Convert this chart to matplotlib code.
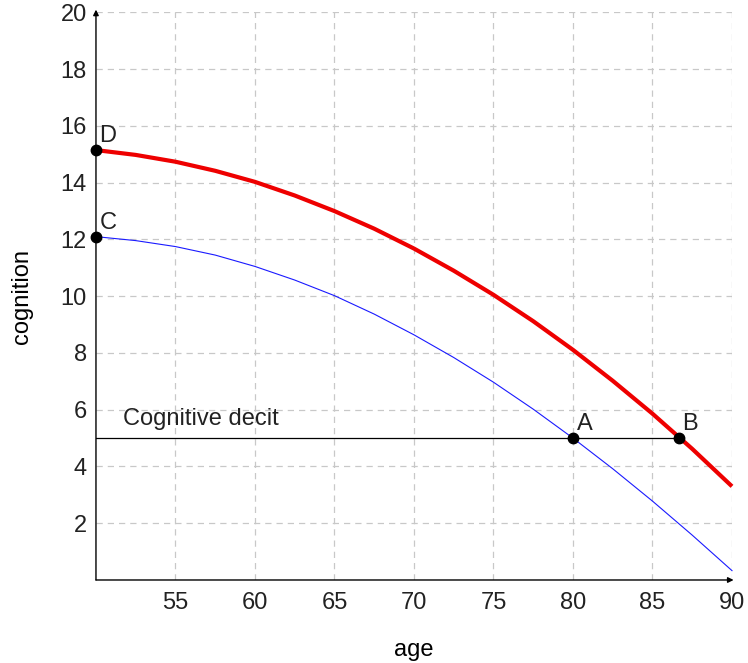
import matplotlib
matplotlib.use("Agg")
import matplotlib.pyplot as plt

# --- data
age = [50, 52.5, 55, 57.5, 60, 62.5, 65, 67.5, 70, 72.5, 75, 77.5, 80, 82.5, 85, 87.5, 90]
cog_low = [12.1, 11.96, 11.75, 11.45, 11.05, 10.57, 10.02, 9.37, 8.64, 7.84, 6.97, 6.02, 5.0,
           3.92, 2.78, 1.58, 0.33]
cog_high = [15.15, 14.98, 14.74, 14.42, 14.03, 13.55, 13.0, 12.38, 11.68, 10.9, 10.05, 9.12, 8.11,
            7.02, 5.86, 4.62, 3.3]

points = {"A": (80, 5), "B": (86.67, 5), "C": (50, 12.1), "D": (50, 15.15)}
deficit_level = 5
x_ticks = [55, 60, 65, 70, 75, 80, 85, 90]
y_ticks = [2, 4, 6, 8, 10, 12, 14, 16, 18, 20]

FS = 17
plt.rcParams["font.family"] = ["Liberation Sans", "DejaVu Sans"]

fig = plt.figure(figsize=(7.48, 6.63), dpi=100)
ax = fig.add_axes([0.1283, 0.1252, 0.8503, 0.856])
ax.set_xlim(50, 90)
ax.set_ylim(0, 20)

# grid
for x in x_ticks:
    ax.axvline(x, color="#c8c8c8", lw=0.9, ls=(0, (5, 4)), zorder=0)
for y in y_ticks:
    ax.axhline(y, color="#c8c8c8", lw=0.9, ls=(0, (5, 4)), zorder=0)

ax.set_xticks(x_ticks)
ax.set_yticks(y_ticks)
ax.tick_params(length=0, labelsize=FS, colors="#222222")
ax.tick_params(axis="x", pad=8.5)
ax.tick_params(axis="y", pad=6.5)
for s in ax.spines.values():
    s.set_visible(False)

# axes with arrows
ax.annotate("", xy=(90.1, 0), xytext=(50, 0), xycoords="data",
            arrowprops=dict(arrowstyle="-|>", color="black", lw=1.0,
                            mutation_scale=8, shrinkA=0, shrinkB=0),
            annotation_clip=False, zorder=5)
ax.annotate("", xy=(50, 20.1), xytext=(50, 0), xycoords="data",
            arrowprops=dict(arrowstyle="-|>", color="black", lw=1.0,
                            mutation_scale=8, shrinkA=0, shrinkB=0),
            annotation_clip=False, zorder=5)

# curves
ax.plot(age, cog_low, color="#1a1aff", lw=0.8, zorder=3, clip_on=False)
ax.plot(age, cog_high, color="#ee0000", lw=3.0, zorder=3, clip_on=False,
        solid_capstyle="butt", solid_joinstyle="round")

# cognitive deficit line
ax.plot([50, points["B"][0]], [deficit_level, deficit_level], color="black", lw=0.9, zorder=2)
ax.text(51.68, 5.46, "Cognitive decit", fontsize=FS, color="#222222", va="baseline", ha="left")

for name, (px, py) in points.items():
    ax.plot(px, py, "o", color="black", ms=7.5, zorder=6, clip_on=False)
    ax.annotate(name, (px, py), xytext=(2.5, 5.5), textcoords="offset points",
                fontsize=FS, color="#222222", va="baseline", ha="left")

ax.set_xlabel("age", fontsize=FS, labelpad=18)
ax.set_ylabel("cognition", fontsize=FS, labelpad=20)

fig.savefig("out.png", dpi=100)
